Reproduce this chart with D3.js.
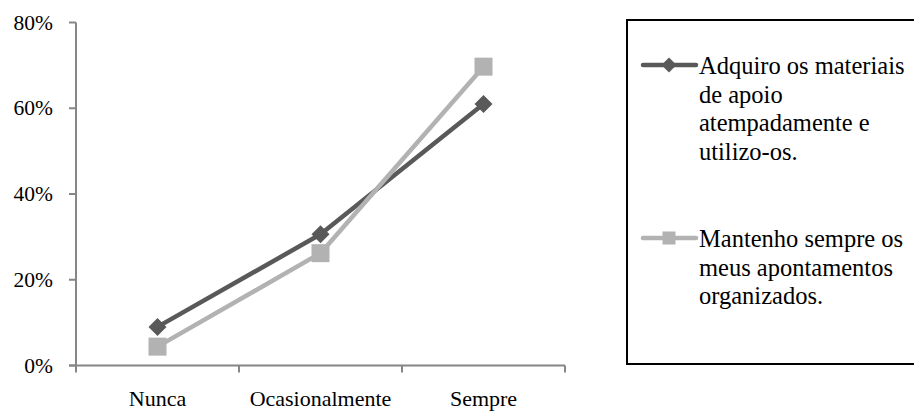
<!DOCTYPE html>
<html>
<head>
<meta charset="utf-8">
<script src="https://cdn.jsdelivr.net/npm/d3@7"></script>
<style>
  body { margin: 0; background: #fff; }
  text { font-family: "Liberation Serif", "Times New Roman", serif; fill: #000; }
</style>
</head>
<body>
<div id="chart"></div>
<script>
var categories = ['Nunca', 'Ocasionalmente', 'Sempre'];
var adquiro = [0.09, 0.306, 0.61];
var mantenho = [0.044, 0.262, 0.697];
var yTicks = [0, 0.2, 0.4, 0.6, 0.8];
var legendAdquiro = ['Adquiro os materiais', 'de apoio', 'atempadamente e', 'utilizo-os.'];
var legendMantenho = ['Mantenho sempre os', 'meus apontamentos', 'organizados.'];

var series = [
    {name: 'adquiro', values: adquiro, color: '#595959', marker: 'diamond', legend: legendAdquiro},
    {name: 'mantenho', values: mantenho, color: '#b2b2b2', marker: 'square', legend: legendMantenho}
];

var svg = d3.select('#chart')
    .append('svg')
    .attr('width', 914)
    .attr('height', 412);

var x = d3.scaleBand()
    .domain(categories)
    .range([76, 565]);

var y = d3.scaleLinear()
    .domain([0, 0.8])
    .range([365.5, 22.5]);

var axisColor = '#868686';

// y axis
var yAxis = svg.append('g');
yAxis.append('line')
    .attr('x1', 76).attr('x2', 76)
    .attr('y1', y(0.8)).attr('y2', y(0))
    .style('stroke', axisColor)
    .style('stroke-width', 2);
yAxis.selectAll('.ytick')
    .data(yTicks)
    .enter().append('line')
    .attr('x1', 69).attr('x2', 76)
    .attr('y1', function (d) { return y(d); })
    .attr('y2', function (d) { return y(d); })
    .style('stroke', axisColor)
    .style('stroke-width', 2);
yAxis.selectAll('text')
    .data(yTicks)
    .enter().append('text')
    .attr('x', 53)
    .attr('y', function (d) { return y(d) + 7; })
    .attr('text-anchor', 'end')
    .style('font-size', '21.5px')
    .text(d3.format('.0%'));

// x axis
var xAxis = svg.append('g');
xAxis.append('line')
    .attr('x1', 69).attr('x2', x.range()[1])
    .attr('y1', y(0)).attr('y2', y(0))
    .style('stroke', axisColor)
    .style('stroke-width', 2);
var bounds = d3.range(categories.length + 1).map(function (i) {
    return x.range()[0] + i * x.step();
});
xAxis.selectAll('.xtick')
    .data(bounds)
    .enter().append('line')
    .attr('x1', function (d) { return d; })
    .attr('x2', function (d) { return d; })
    .attr('y1', y(0)).attr('y2', y(0) + 7)
    .style('stroke', axisColor)
    .style('stroke-width', 2);
xAxis.selectAll('text')
    .data(categories)
    .enter().append('text')
    .attr('x', function (d) { return x(d) + x.bandwidth() / 2; })
    .attr('y', 406)
    .attr('text-anchor', 'middle')
    .style('font-size', '22px')
    .text(function (d) { return d; });

var line = d3.line()
    .x(function (d, i) { return x(categories[i]) + x.bandwidth() / 2; })
    .y(function (d) { return y(d); });

function drawMarker(g, type, cx, cy, size, color) {
    if (type == 'diamond') {
        var h = size / 2;
        g.append('path')
            .attr('d', 'M' + cx + ',' + (cy - h) + 'L' + (cx + h) + ',' + cy + 'L' + cx + ',' + (cy + h) + 'L' + (cx - h) + ',' + cy + 'Z')
            .attr('fill', color);
    } else {
        g.append('rect')
            .attr('x', cx - size / 2)
            .attr('y', cy - size / 2)
            .attr('width', size)
            .attr('height', size)
            .attr('fill', color);
    }
}

series.forEach(function (s) {
    var g = svg.append('g');
    g.append('path')
        .datum(s.values)
        .attr('d', line)
        .attr('fill', 'none')
        .style('stroke', s.color)
        .style('stroke-width', 4.5)
        .style('stroke-linejoin', 'round');
    s.values.forEach(function (v, i) {
        drawMarker(g, s.marker, x(categories[i]) + x.bandwidth() / 2, y(v), 18, s.color);
    });
});

// legend
var legend = svg.append('g');
legend.append('rect')
    .attr('x', 627)
    .attr('y', 20)
    .attr('width', 300)
    .attr('height', 344)
    .attr('fill', 'none')
    .style('stroke', '#000')
    .style('stroke-width', 2);

var legendTop = [65, 238];
series.forEach(function (s, k) {
    var cy = legendTop[k];
    legend.append('line')
        .attr('x1', 643).attr('x2', 696)
        .attr('y1', cy).attr('y2', cy)
        .style('stroke', s.color)
        .style('stroke-width', 4.5)
        .style('stroke-linecap', 'round');
    drawMarker(legend, s.marker, 669, cy, s.marker == 'diamond' ? 15 : 13, s.color);
    legend.selectAll('.l' + k)
        .data(s.legend)
        .enter().append('text')
        .attr('x', 699)
        .attr('y', function (d, i) { return cy + 9 + i * 28.7; })
        .style('font-size', '24.5px')
        .text(function (d) { return d; });
});
</script>
</body>
</html>
